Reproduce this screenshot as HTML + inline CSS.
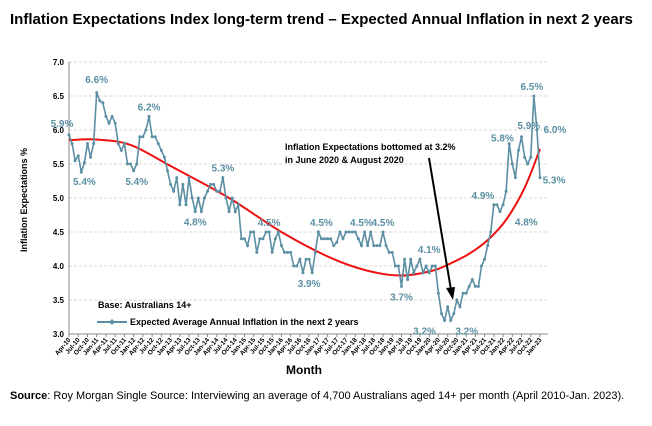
<!DOCTYPE html>
<html><head><meta charset="utf-8"><style>
body{margin:0;background:#fff;width:652px;height:421px;overflow:hidden;font-family:"Liberation Sans",Arial,sans-serif}
svg text{font-family:"Liberation Sans",Arial,sans-serif}
</style></head><body>
<svg id="c" width="652" height="421" viewBox="0 0 652 421">
<text x="10" y="24" font-size="15" font-weight="bold" fill="#000">Inflation Expectations Index long-term trend – Expected Annual Inflation in next 2 years</text>
<g id="grid"></g><g id="axes"></g><g id="trend"></g><g id="series"></g><g id="labels"></g>
<text transform="translate(27,200) rotate(-90)" text-anchor="middle" font-size="9" font-weight="bold">Inflation Expectations %</text>
<text x="304" y="374" text-anchor="middle" font-size="12" font-weight="bold">Month</text>
<text x="98" y="308" font-size="9" font-weight="bold">Base: Australians 14+</text>
<g>
<line x1="97" y1="322" x2="127" y2="322" stroke="#5b8fa3" stroke-width="2"/>
<path d="M112 319 L115 322 L112 325 L109 322Z" fill="#5b8fa3"/>
<text x="130" y="325" font-size="9" font-weight="bold">Expected Average Annual Inflation in the next 2 years</text>
</g>
<text x="285" y="150" font-size="9" font-weight="bold">Inflation Expectations bottomed at 3.2%</text>
<text x="285" y="163" font-size="9" font-weight="bold">in June 2020 &amp; August 2020</text>
<g>
<line x1="429" y1="158" x2="451" y2="290" stroke="#000" stroke-width="2"/>
<path d="M446 288 L453 300 L455 287Z" fill="#000"/>
</g>
<text x="10" y="399" font-size="11"><tspan font-weight="bold">Source</tspan>: Roy Morgan Single Source: Interviewing an average of 4,700 Australians aged 14+ per month (April 2010-Jan. 2023).</text>
</svg>
<script>
const values=[5.93,5.8,5.55,5.62,5.38,5.52,5.8,5.6,5.8,6.55,6.43,6.4,6.2,6.1,6.2,6.1,5.8,5.7,5.8,5.5,5.5,5.4,5.5,5.9,5.9,6.0,6.2,5.9,5.9,5.8,5.7,5.6,5.4,5.2,5.1,5.3,4.9,5.2,4.9,5.3,5.0,4.8,5.0,4.8,5.0,5.1,5.2,5.2,5.1,5.1,5.3,5.0,4.8,5.0,4.8,4.9,4.4,4.4,4.3,4.5,4.5,4.2,4.4,4.4,4.5,4.5,4.2,4.4,4.5,4.3,4.2,4.2,4.2,4.0,4.0,4.1,3.9,4.1,4.1,3.9,4.2,4.5,4.4,4.4,4.4,4.4,4.3,4.35,4.5,4.4,4.5,4.5,4.5,4.5,4.4,4.3,4.5,4.3,4.5,4.3,4.3,4.3,4.5,4.3,4.2,4.2,4.0,4.0,3.7,4.1,3.8,4.1,3.9,4.0,4.1,3.9,4.0,3.9,4.0,4.0,3.6,3.3,3.2,3.4,3.2,3.3,3.5,3.4,3.6,3.6,3.7,3.8,3.7,3.7,4.0,4.1,4.3,4.5,4.9,4.9,4.8,4.9,5.1,5.8,5.5,5.3,5.7,5.9,5.6,5.5,5.6,6.5,6.0,5.3];
const trendIdx=[0,9,20,33,52,69,85,97,108,118,124,130,136,142,148,153];
const trendVal=[5.85,5.86,5.78,5.47,5.0,4.5,4.12,3.93,3.86,3.93,4.04,4.18,4.38,4.68,5.15,5.72];
const yTicks=[3.0,3.5,4.0,4.5,5.0,5.5,6.0,6.5,7.0];
const monthNames=["Jan","Apr","Jul","Oct"];
const pctLabels=[["5.9%",0,5.9,-7,-10],["5.4%",5,5.4,0,14],["6.6%",9,6.6,0,-6],["5.4%",22,5.4,0,14],["6.2%",26,6.2,0,-6],["4.8%",41,4.8,0,14],["5.3%",50,5.3,0,-6],["4.5%",65,4.5,0,-6],["3.9%",78,3.9,0,14],["4.5%",82,4.5,0,-6],["4.5%",95,4.5,0,-6],["4.5%",102,4.5,0,-6],["4.1%",117,4.1,0,-6],["3.7%",108,3.7,0,14],["3.2%",122,3.2,-20,14],["3.2%",124,3.2,16,14],["4.9%",139,4.9,-14,-6],["5.8%",146,5.8,-16,-2],["4.8%",144,4.8,14,14],["5.9%",150,5.9,-2,-8],["6.5%",151,6.5,-2,-6],["6.0%",152,6.0,18,3],["5.3%",153,5.3,14,6]];
const NS="http://www.w3.org/2000/svg";
const x0=69,x1=540,yTop=62,yBot=334;
const n=values.length;
function xs(i){return x0+(x1-x0)*i/(n-1);}
function ys(v){return yBot-(v-3)/(7-3)*(yBot-yTop);}
function mk(tag,attrs,parent){const e=document.createElementNS(NS,tag);for(const k in attrs)e.setAttribute(k,attrs[k]);parent.appendChild(e);return e;}
const grid=document.getElementById('grid'),axes=document.getElementById('axes');
yTicks.forEach(t=>{
  if(t>3){const g=mk('line',{x1:x0,x2:x1+8,y1:ys(t),y2:ys(t),stroke:'#ccc','stroke-dasharray':'3,2','stroke-width':0.7},grid);
  
  }
  const tx=mk('text',{x:x0-5,y:ys(t)+3,'text-anchor':'end','font-size':8,'font-weight':'bold'},axes);
  tx.textContent=t.toFixed(1);
  
  
});
const ya=mk('line',{x1:x0,x2:x0,y1:yTop,y2:yBot,stroke:'#888'},axes);


const xa=mk('line',{x1:x0,x2:x1+8,y1:yBot,y2:yBot,stroke:'#888'},axes);


for(let i=0;i<n;i+=3){
  const m=(3+i)%12, yr=10+Math.floor((3+i)/12);
  const lab=monthNames[m/3]+"-"+String(yr).padStart(2,'0');
  const px=xs(i);
  mk('line',{x1:px,x2:px,y1:yBot,y2:yBot+3,stroke:'#888'},axes);
  const t=mk('text',{x:0,y:0,'text-anchor':'end','font-size':6.5,'font-weight':'bold',transform:`translate(${px+2},${yBot+6}) rotate(-50)`},axes);
  t.textContent=lab;
  
  
}
let pts=trendIdx.map((k,j)=>[xs(k),ys(trendVal[j])]);
let d=`M${pts[0][0]},${pts[0][1]}`;
for(let i=0;i<pts.length-1;i++){
  const p0=pts[Math.max(0,i-1)],p1=pts[i],p2=pts[i+1],p3=pts[Math.min(pts.length-1,i+2)];
  d+=` C${p1[0]+(p2[0]-p0[0])/6},${p1[1]+(p2[1]-p0[1])/6} ${p2[0]-(p3[0]-p1[0])/6},${p2[1]-(p3[1]-p1[1])/6} ${p2[0]},${p2[1]}`;
}
const tr=mk('path',{d:d,fill:'none',stroke:'#ee1111','stroke-width':2},document.getElementById('trend'));


const sg=document.getElementById('series');
const ln=mk('polyline',{points:values.map((v,i)=>xs(i)+','+ys(v)).join(' '),fill:'none',stroke:'#5b8fa3','stroke-width':1.6},sg);


values.forEach((v,i)=>{
  const c=mk('circle',{cx:xs(i),cy:ys(v),r:1.5,fill:'#5b8fa3'},sg);
  
  
});
const lg=document.getElementById('labels');
pctLabels.forEach(l=>{
  const t=mk('text',{x:xs(l[1])+l[3],y:ys(l[2])+l[4],'text-anchor':'middle','font-size':10,'font-weight':'bold',fill:'#5b8fa3'},lg);
  t.textContent=l[0];
  
  
});
</script>
</body></html>
